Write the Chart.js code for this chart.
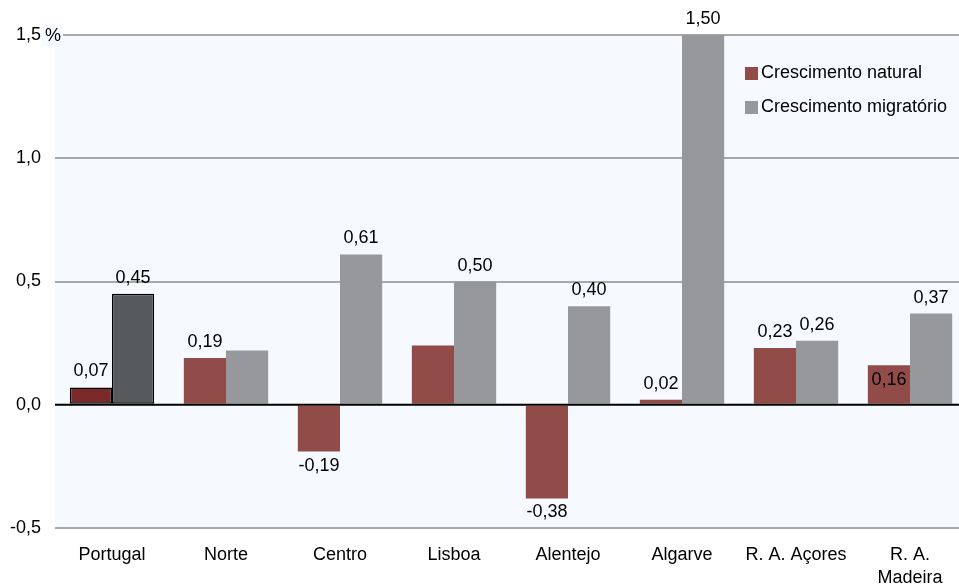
<!DOCTYPE html>
<html lang="pt">

<head>
    <meta charset="UTF-8">
    <title>Crescimento natural e migratório</title>
    <script src="https://cdn.jsdelivr.net/npm/chart.js"></script>
    <style>
        html, body {
            margin: 0;
            padding: 0;
            background: #ffffff;
            overflow: hidden;
        }

        .chart-container {
            position: relative;
            width: 967px;
            height: 586px;
        }
    </style>
</head>

<body>

    <div class="chart-container">
        <canvas id="growthChart"></canvas>
    </div>

    <script>
        // Data values
        const regions = ['Portugal', 'Norte', 'Centro', 'Lisboa', 'Alentejo', 'Algarve', 'R. A. Açores', ['R. A.', 'Madeira']];
        const naturalGrowth = [0.07, 0.19, -0.19, 0.24, -0.38, 0.02, 0.23, 0.16];
        const migratoryGrowth = [0.45, 0.22, 0.61, 0.50, 0.40, 1.50, 0.26, 0.37];

        // Value labels printed on the chart (some bars carry none)
        const naturalLabels = ['0,07', '0,19', '-0,19', null, '-0,38', '0,02', '0,23', '0,16'];
        const migratoryLabels = ['0,45', null, '0,61', '0,50', '0,40', '1,50', '0,26', '0,37'];

        const yTicks = [-0.5, 0, 0.5, 1.0, 1.5];
        const yTickLabels = ['-0,5', '0,0', '0,5', '1,0', '1,5'];
        const yUnit = '%'; // printed after the top tick

        const FONT = "'Liberation Sans', Arial, sans-serif";
        const BG = '#f6f9fd';

        // plot background
        const plotBackground = {
            id: 'plotBackground',
            beforeDraw(chart) {
                const { ctx, chartArea } = chart;
                ctx.save();
                ctx.fillStyle = BG;
                ctx.fillRect(chartArea.left, chartArea.top, chartArea.right - chartArea.left, chartArea.bottom - chartArea.top);
                ctx.restore();
            }
        };

        // zero line, unit, value labels and legend drawn on top of the bars
        const overlay = {
            id: 'overlay',
            afterDatasetsDraw(chart) {
                const { ctx, chartArea } = chart;
                const y = chart.scales.y;
                ctx.save();

                const y0 = y.getPixelForValue(0);
                ctx.strokeStyle = '#000000';
                ctx.lineWidth = 2;
                ctx.beginPath();
                ctx.moveTo(chartArea.left, y0);
                ctx.lineTo(chartArea.right, y0);
                ctx.stroke();

                // unit after the top tick label, on a small background patch
                const yTop = y.getPixelForValue(yTicks[yTicks.length - 1]);
                ctx.fillStyle = BG;
                ctx.fillRect(42, yTop - 11, 21, 22);
                ctx.font = '18px ' + FONT;
                ctx.fillStyle = '#000000';
                ctx.textAlign = 'left';
                ctx.textBaseline = 'middle';
                ctx.fillText(yUnit, 45, yTop + 1);

                ctx.textAlign = 'center';
                ctx.textBaseline = 'alphabetic';
                const labelSets = [naturalLabels, migratoryLabels];
                chart.data.datasets.forEach((ds, di) => {
                    chart.getDatasetMeta(di).data.forEach((bar, i) => {
                        const text = labelSets[di][i];
                        if (!text) return;
                        const v = ds.data[i];
                        let ty;
                        if (di === 0 && i === 7) {
                            ty = bar.y + 20; // Madeira label sits inside the bar
                        } else if (v < 0) {
                            ty = bar.y + 19;
                        } else {
                            ty = bar.y - 11;
                        }
                        ctx.fillText(text, bar.x, ty);
                    });
                });

                // legend
                ctx.textAlign = 'left';
                ctx.textBaseline = 'middle';
                const items = [
                    { label: chart.data.datasets[0].label, color: '#914c4a' },
                    { label: chart.data.datasets[1].label, color: '#97989b' }
                ];
                items.forEach((it, k) => {
                    const ly = 73 + k * 34;
                    ctx.fillStyle = it.color;
                    ctx.fillRect(745, ly - 6, 13, 13);
                    ctx.fillStyle = '#000000';
                    ctx.fillText(it.label, 761, ly);
                });
                ctx.restore();
            }
        };

        const ctx = document.getElementById('growthChart').getContext('2d');
        const config = {
            type: 'bar',
            data: {
                labels: regions,
                datasets: [
                    {
                        label: 'Crescimento natural',
                        data: naturalGrowth,
                        backgroundColor: c => c.dataIndex === 0 ? '#7a2828' : '#914c4a',
                        borderColor: '#000000',
                        borderWidth: c => c.dataIndex === 0 ? 1.5 : 0,
                        borderSkipped: false,
                        categoryPercentage: 0.74,
                        barPercentage: 1.0
                    },
                    {
                        label: 'Crescimento migratório',
                        data: migratoryGrowth,
                        backgroundColor: c => c.dataIndex === 0 ? '#575a5c' : '#97989b',
                        borderColor: '#000000',
                        borderWidth: c => c.dataIndex === 0 ? 1.5 : 0,
                        borderSkipped: false,
                        categoryPercentage: 0.74,
                        barPercentage: 1.0
                    }
                ]
            },
            options: {
                responsive: true,
                maintainAspectRatio: false,
                animation: false,
                layout: {
                    padding: { top: 35, right: 0, bottom: 0, left: 0 }
                },
                plugins: {
                    legend: { display: false },
                    tooltip: { enabled: false }
                },
                scales: {
                    x: {
                        grid: { display: false, drawTicks: false },
                        border: { display: false },
                        ticks: {
                            autoSkip: false,
                            maxRotation: 0,
                            padding: 16,
                            color: '#000000',
                            font: { family: FONT, size: 18, lineHeight: 1.25 }
                        },
                        afterFit(scale) { scale.height = 58; }
                    },
                    y: {
                        min: -0.5,
                        max: 1.5,
                        afterBuildTicks(scale) {
                            scale.ticks = yTicks.map(v => ({ value: v }));
                        },
                        afterFit(scale) { scale.width = 55; },
                        grid: {
                            drawTicks: false,
                            color: c => c.tick && c.tick.value === 0 ? 'rgba(0,0,0,0)' : '#a8a8a8',
                            lineWidth: 2
                        },
                        border: { display: false },
                        ticks: {
                            padding: 14,
                            color: '#000000',
                            font: { family: FONT, size: 18 },
                            callback: (value) => yTickLabels[yTicks.indexOf(value)]
                        }
                    }
                }
            },
            plugins: [plotBackground, overlay]
        };

        const growthChart = new Chart(ctx, config);
    </script>

</body>

</html>
